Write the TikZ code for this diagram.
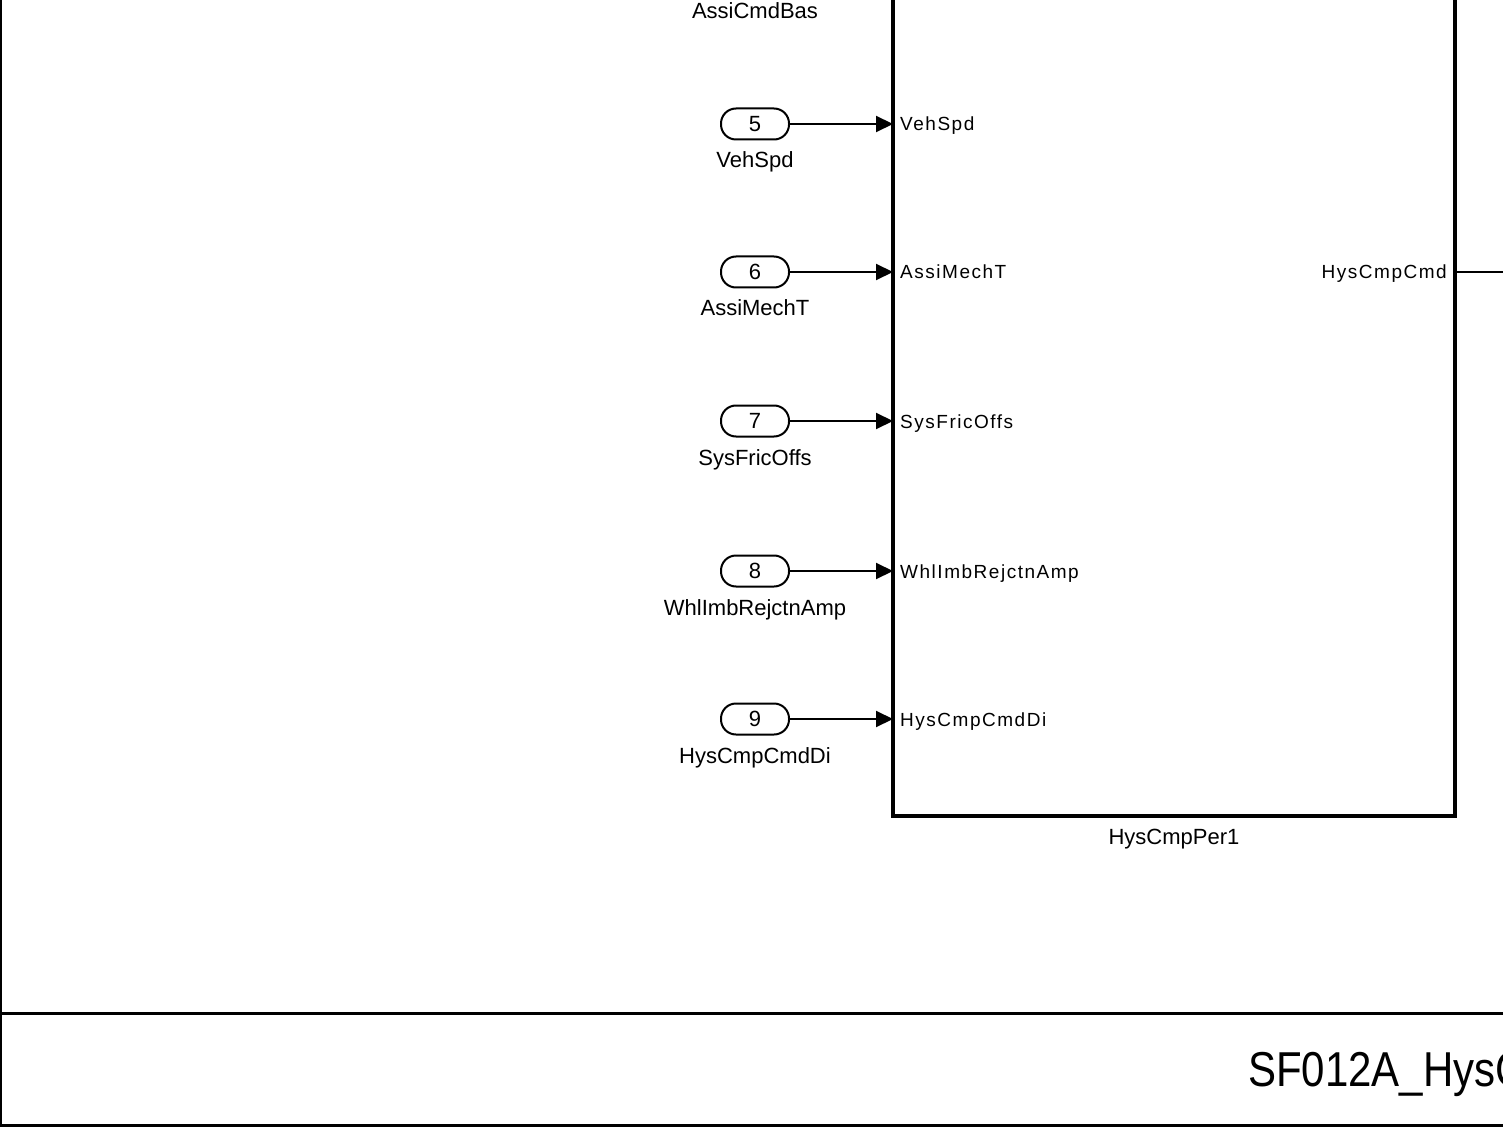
\documentclass[tikz,border=0pt]{standalone}
\usepackage{fontspec}
\setmainfont{Liberation Sans}
\usetikzlibrary{arrows.meta}

\tikzset{
	inport/.style = {draw, line width = 2pt, rounded corners = 15pt,
		minimum width = 68pt, minimum height = 31pt, inner sep = 0pt,
		font = \fontsize{22}{22}\selectfont},
	portname/.style = {inner sep = 0pt, anchor = base, font = \fontsize{22}{22}\selectfont},
	pinname/.style = {inner sep = 0pt,
		font = \fontsize{19}{19}\selectfont\addfontfeature{LetterSpace=8}},
	subsys/.style = {draw, line width = 4pt, outer sep = 0pt, inner sep = 0pt,
		minimum width = 562pt, minimum height = 936pt},
	frameline/.style = {line width = 3pt}
}

\begin{document}
\begin{tikzpicture}[x = 1pt, y = -1pt, > = {Triangle[length = 17pt, width = 16pt]}]

	% Page
	
	\useasboundingbox (0, 0) rectangle (1503, 1131);
	\clip (0, 0) rectangle (1503, 1131);

	% Subsystem block
	
	\node [subsys] (hcp) at (1174, 348) {};
	\node [portname] (hcpname) at ([yshift = -28pt] hcp.south) {HysCmpPer1};
	
	% Inports with their lines
	
	\node [portname] (p4name) at (755, 19) {AssiCmdBas};
	
	\foreach \n/\y/\s in {5/124/VehSpd, 6/272/AssiMechT, 7/421/SysFricOffs,
		8/571/WhlImbRejctnAmp, 9/719/HysCmpCmdDi}
	{
		\node [inport] (p\n) at (755, \y) {\n};
		\node [portname] (p\n name) at ([yshift = -44pt] p\n.center) {\s};
		\draw [->, line width = 2pt] (p\n.east) -- (hcp.west |- p\n.east);
		\node [pinname, anchor = base west] (in\n)
			at ([xshift = 7pt, yshift = -7pt] hcp.west |- p\n.east) {\s};
	}
	
	% Outport line
	
	\coordinate (out) at (1530, 272);
	\node [pinname, anchor = base east] (cmd)
		at ([xshift = -8pt, yshift = -7pt] hcp.east |- out) {HysCmpCmd};
	\draw [line width = 2pt] (hcp.east |- out) -- (out);
	
	% Frame and title bar
	
	\draw [line width = 2pt] (1, -20) -- (1, 1125);
	\draw [frameline] (0, 1013) -- (1530, 1013);
	\draw [frameline] (0, 1125) -- (1530, 1125);
	\node [anchor = base west, inner sep = 0pt, font = \fontsize{49}{49}\selectfont] (title)
		at (1248, 1086) {\scalebox{0.857}[1]{SF012A\_HysC}};

\end{tikzpicture}
\end{document}
